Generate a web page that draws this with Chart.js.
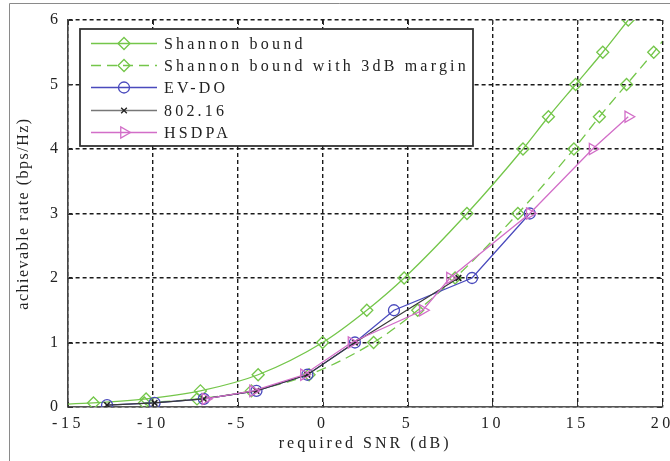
<!DOCTYPE html>
<html>
<head>
<meta charset="utf-8">
<script src="https://cdn.jsdelivr.net/npm/chart.js@4/dist/chart.umd.min.js"></script>
<style>
  html, body { margin: 0; padding: 0; background: #fff; overflow: hidden; }
  #wrap { position: relative; width: 670px; height: 461px; }
</style>
</head>
<body>
<div id="wrap"><canvas id="c" width="670" height="461"></canvas></div>
<script>
// Axis ticks
const xTicks = [-15, -10, -5, 0, 5, 10, 15, 20];
const yTicks = [0, 1, 2, 3, 4, 5, 6];

// Shannon bound (first point lies left of the axis so the curve runs in from the edge)
const shannonSnr  = [-16.6, -13.5, -10.4, -7.2, -3.8, 0.0, 2.6, 4.8, 8.5, 11.8, 13.3, 14.9, 16.5, 18.0];
const shannonRate = [0.03, 0.0625, 0.125, 0.25, 0.5, 1, 1.5, 2, 3, 4, 4.5, 5, 5.5, 6];
const shannonMark = [0, 6, 6, 6, 6, 6, 6, 6, 6, 6, 6, 6, 6, 6];

// Shannon bound with 3 dB margin (last point lies right of the axis)
const marginSnr  = [-10.5, -7.4, -4.2, -0.8, 3.0, 5.6, 7.8, 11.5, 14.8, 16.3, 17.9, 19.5, 21.0];
const marginRate = [0.0625, 0.125, 0.25, 0.5, 1, 1.5, 2, 3, 4, 4.5, 5, 5.5, 6];

// EV-DO
const evdoSnr  = [-12.7, -9.9, -7.0, -3.9, -0.9, 1.9, 4.2, 8.8, 12.2];
const evdoRate = [0.03, 0.0625, 0.125, 0.25, 0.5, 1, 1.5, 2, 3];

// 802.16
const wimaxSnr  = [-12.7, -9.9, -7.0, -3.9, -0.9, 1.9, 8.0];
const wimaxRate = [0.03, 0.0625, 0.125, 0.25, 0.5, 1, 2];

// HSDPA
const hsdpaSnr  = [-6.9, -4.1, -1.1, 1.7, 5.9, 7.5, 12.2, 15.9, 18.0];
const hsdpaRate = [0.125, 0.25, 0.5, 1, 1.5, 2, 3, 4, 4.5];

const pts = (xs, ys) => xs.map((x, i) => ({ x, y: ys[i] }));

const GREEN = '#74c64a', BLUE = '#4a4abd', GRAY = '#777777', DARK = '#222222', PINK = '#d26ec8';
const SERIF = '"Liberation Serif", "Times New Roman", serif';

Chart.defaults.font.family = SERIF;
Chart.defaults.color = '#222';

// Frame, letter spacing and inward tick marks
const decor = {
  id: 'decor',
  beforeDraw(chart) {
    const ctx = chart.ctx;
    ctx.save();
    ctx.fillStyle = '#fff';
    ctx.fillRect(0, 0, chart.width, chart.height);
    ctx.strokeStyle = '#8a8a8a';
    ctx.lineWidth = 1;
    ctx.beginPath();
    ctx.moveTo(9.5, chart.height);
    ctx.lineTo(9.5, 3.5);
    ctx.lineTo(chart.width, 3.5);
    ctx.stroke();
    ctx.restore();
    ctx.letterSpacing = '3.5px';
    [['x', '3px'], ['y', '1.5px']].forEach(([id, sp]) => {
      const s = chart.scales[id];
      if (s && !s._spaced) {
        const orig = s.drawTitle.bind(s);
        s.drawTitle = function () {
          const prev = ctx.letterSpacing;
          ctx.letterSpacing = sp;
          orig();
          ctx.letterSpacing = prev;
        };
        s._spaced = true;
      }
    });
  },
  beforeDatasetsDraw(chart) {
    const ctx = chart.ctx, a = chart.chartArea;
    const xs = chart.scales.x, ys = chart.scales.y;
    ctx.save();
    ctx.strokeStyle = '#333';
    ctx.lineWidth = 1;
    ctx.beginPath();
    xTicks.forEach(v => {
      const px = Math.round(xs.getPixelForValue(v)) + 0.5;
      ctx.moveTo(px, a.bottom); ctx.lineTo(px, a.bottom - 5);
      ctx.moveTo(px, a.top); ctx.lineTo(px, a.top + 5);
    });
    yTicks.forEach(v => {
      const py = Math.round(ys.getPixelForValue(v)) + 0.5;
      ctx.moveTo(a.left, py); ctx.lineTo(a.left + 5, py);
      ctx.moveTo(a.right, py); ctx.lineTo(a.right - 5, py);
    });
    ctx.stroke();
    ctx.restore();
  },
  afterDraw(chart) {
    chart.ctx.letterSpacing = '0px';
  }
};

// Boxed legend: line sample with marker in the middle, label to the right
const boxLegend = {
  id: 'boxLegend',
  afterDatasetsDraw(chart) {
    const ctx = chart.ctx, a = chart.chartArea;
    const x0 = a.left + 12, y0 = a.top + 9, w = 393, h = 117;
    ctx.save();
    ctx.fillStyle = '#fff';
    ctx.fillRect(x0, y0, w, h);
    ctx.strokeStyle = '#333';
    ctx.lineWidth = 1.8;
    ctx.strokeRect(x0, y0, w, h);
    ctx.font = '16px ' + SERIF;
    ctx.letterSpacing = '3.2px';
    ctx.textBaseline = 'middle';
    ctx.textAlign = 'left';
    chart.data.datasets.forEach((ds, i) => {
      const y = Math.round(y0 + 14 + i * 22.2) + 0.5;
      ctx.save();
      ctx.strokeStyle = ds.legendLine || ds.borderColor;
      ctx.lineWidth = 1.3;
      ctx.setLineDash(ds.borderDash || []);
      ctx.beginPath();
      ctx.moveTo(x0 + 11, y);
      ctx.lineTo(x0 + 77, y);
      ctx.stroke();
      ctx.setLineDash([]);
      ctx.strokeStyle = ds.pointBorderColor || ds.borderColor;
      ctx.fillStyle = 'rgba(0,0,0,0)';
      ctx.lineWidth = 1.3;
      Chart.helpers.drawPoint(ctx, {
        pointStyle: ds.pointStyle,
        radius: ds.legendRadius,
        rotation: ds.pointRotation || 0,
        borderWidth: 1.3
      }, x0 + 44, y);
      ctx.restore();
      ctx.fillStyle = '#222';
      ctx.fillText(ds.label, x0 + 84, y + 1);
    });
    ctx.restore();
  }
};

new Chart(document.getElementById('c'), {
  type: 'line',
  data: {
    datasets: [
      {
        label: 'Shannon bound',
        data: pts(shannonSnr, shannonRate),
        borderColor: GREEN, borderWidth: 1.3,
        pointStyle: 'rectRot', pointRadius: shannonMark, legendRadius: 6,
        pointBorderColor: GREEN, pointBackgroundColor: 'rgba(0,0,0,0)', pointBorderWidth: 1.3,
        cubicInterpolationMode: 'monotone', order: 5
      },
      {
        label: 'Shannon bound with 3dB margin',
        data: pts(marginSnr, marginRate),
        borderColor: GREEN, borderWidth: 1.3, borderDash: [10, 6],
        pointStyle: 'rectRot', pointRadius: 6, legendRadius: 6,
        pointBorderColor: GREEN, pointBackgroundColor: 'rgba(0,0,0,0)', pointBorderWidth: 1.3,
        cubicInterpolationMode: 'monotone', order: 4
      },
      {
        label: 'EV-DO',
        data: pts(evdoSnr, evdoRate),
        borderColor: BLUE, borderWidth: 1.3,
        pointStyle: 'circle', pointRadius: 5.5, legendRadius: 5.5,
        pointBorderColor: BLUE, pointBackgroundColor: 'rgba(0,0,0,0)', pointBorderWidth: 1.3,
        tension: 0, order: 3
      },
      {
        label: '802.16',
        data: pts(wimaxSnr, wimaxRate),
        borderColor: '#3a3a3a', legendLine: GRAY, borderWidth: 1.2,
        pointStyle: 'crossRot', pointRadius: 4, legendRadius: 4,
        pointBorderColor: DARK, pointBackgroundColor: 'rgba(0,0,0,0)', pointBorderWidth: 1.6,
        tension: 0, order: 2
      },
      {
        label: 'HSDPA',
        data: pts(hsdpaSnr, hsdpaRate),
        borderColor: PINK, borderWidth: 1.3,
        pointStyle: 'triangle', pointRotation: 90, pointRadius: 6.5, legendRadius: 6.5,
        pointBorderColor: PINK, pointBackgroundColor: 'rgba(0,0,0,0)', pointBorderWidth: 1.3,
        tension: 0, order: 1
      }
    ]
  },
  options: {
    responsive: false,
    animation: false,
    events: [],
    layout: { padding: { top: 20, right: 5, bottom: 0, left: 0 } },
    plugins: { legend: { display: false }, tooltip: { enabled: false } },
    scales: {
      x: {
        type: 'linear', min: -15, max: 20,
        afterBuildTicks: s => { s.ticks = xTicks.map(v => ({ value: v })); },
        afterFit: s => { s.height = 54; s.paddingLeft = 0; s.paddingRight = 0; },
        grid: { color: '#1a1a1a', lineWidth: 1.4, drawTicks: false },
        border: { display: true, color: '#555', width: 1.6, dash: [4, 3] },
        ticks: { padding: 7.6, font: { size: 16 }, color: '#222', maxRotation: 0, autoSkip: false },
        title: { display: true, text: 'required SNR (dB)', font: { size: 16 }, color: '#222', padding: { top: 0, bottom: 7.4 } }
      },
      y: {
        type: 'linear', min: 0, max: 6,
        afterBuildTicks: s => { s.ticks = yTicks.map(v => ({ value: v })); },
        afterFit: s => { s.width = 68; s.paddingTop = 0; s.paddingBottom = 0; },
        grid: { color: '#1a1a1a', lineWidth: 1.4, drawTicks: false },
        border: { display: true, color: '#444', width: 1.6, dash: [4, 3] },
        ticks: { padding: 6.5, font: { size: 16 }, color: '#222', autoSkip: false },
        title: { display: true, text: 'achievable rate (bps/Hz)', font: { size: 16 }, color: '#222', padding: { top: 14.4, bottom: 0 } }
      }
    }
  },
  plugins: [decor, boxLegend]
});
</script>
</body>
</html>
